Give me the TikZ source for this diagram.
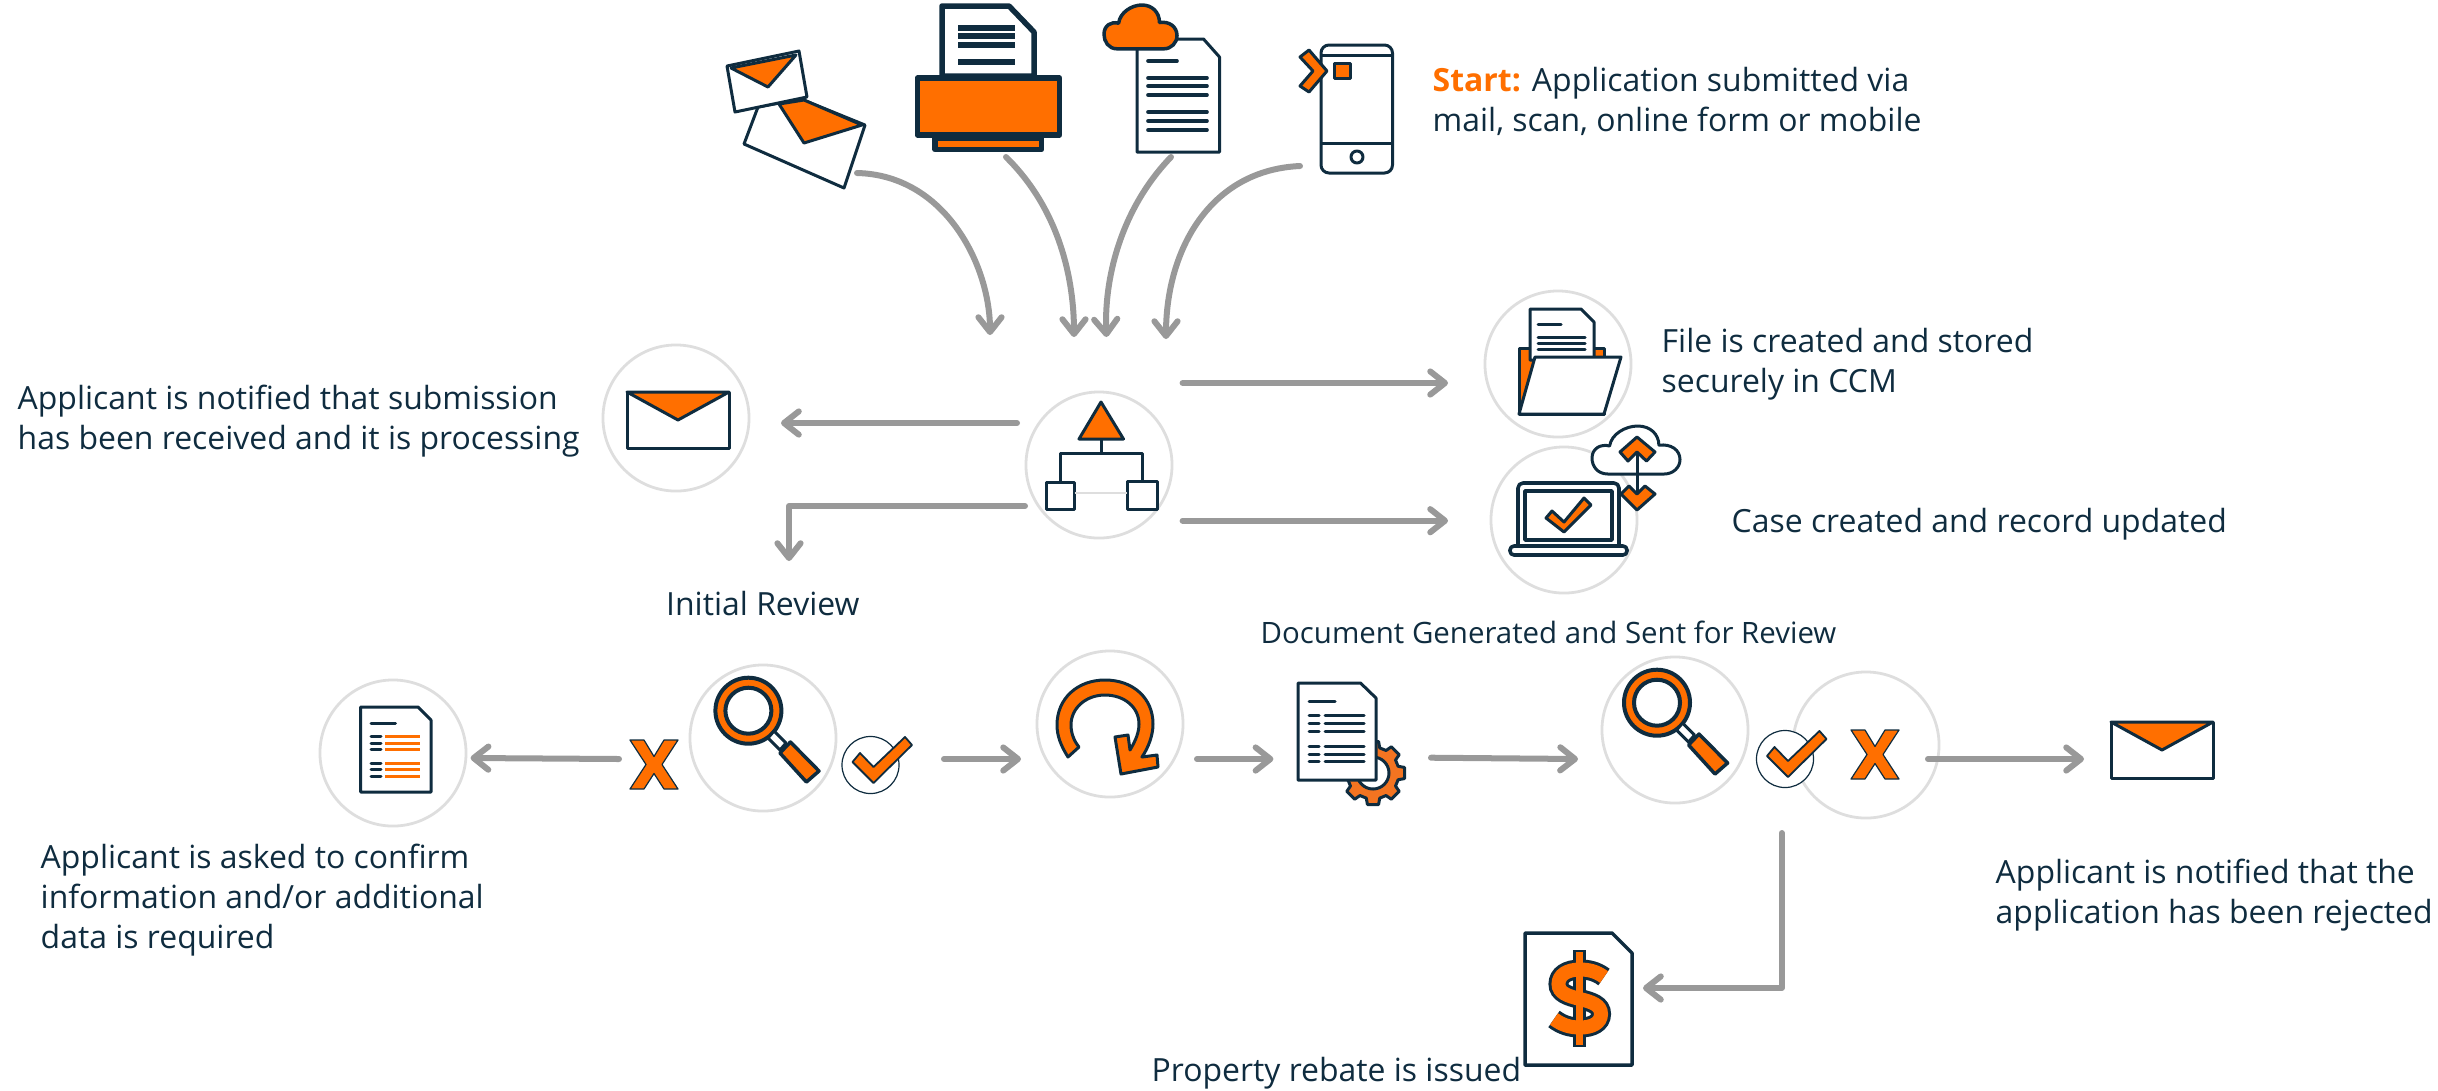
\documentclass[tikz,border=0pt]{standalone}
\usepackage{fontspec}
\usepackage{xcolor}
\setmainfont{Open Sans}
\usetikzlibrary{arrows.meta}
\definecolor{ink}{HTML}{0F2C3F}
\definecolor{accent}{HTML}{FF6F00}
\definecolor{gearcol}{HTML}{F37421}
\definecolor{flowgray}{HTML}{999999}
\definecolor{ringgray}{HTML}{DEDEDE}

\tikzset{
    envelopeicon/.pic={
        \draw[icon,fill=white] (0,0) rectangle (102,56);
        \draw[icon,fill=accent] (0,0) -- (102,0) -- (51,28) -- cycle;
    },
    cloudicon/.pic={
        \path[pic actions] (18,60) .. controls (6,60) and (0,50) .. (0,40) .. controls (0,28) and (10,22) .. (20,25)
            .. controls (22,10) and (38,0) .. (52,0) .. controls (66,0) and (76,10) .. (76,24)
            .. controls (90,22) and (100,30) .. (100,42) .. controls (100,52) and (92,60) .. (82,60) -- cycle;
    },
    lensicon/.pic={
        \draw[icon,line width=0.04cm,fill=accent,even odd rule] (0,0) circle[radius=33] (0,0) circle[radius=23];
        \draw[icon,fill=white] (19.6,27.3) -- (25.6,20.3) -- (37.6,32.3) -- (31.6,39.3) -- cycle;
        \draw[icon,line width=0.035cm,fill=accent] (31.6,42.3) -- (42,31.3) -- (70.6,60.3) -- (58,71.3) -- cycle;
    },
    tickicon/.pic={
        \draw[icon,line width=0.018cm,fill=accent] (-21,-5) -- (-13.5,-14) -- (0,0) -- (31.5,-30) -- (38.5,-22) -- (0,16) -- cycle;
    },
    crossicon/.pic={
        \draw[icon,line width=0.012cm,fill=accent] (-24,-24.5) -- (-10,-24.5) -- (0,-8) -- (10,-24.5) -- (24,-24.5) -- (8,0)
            -- (24,24.5) -- (10,24.5) -- (0,9) -- (-10,24.5) -- (-24,24.5) -- (-8,0) -- cycle;
    }
}

\begin{document}
\begin{tikzpicture}[
    x=0.01cm,y=-0.01cm,
    icon/.style={draw=ink, line width=0.03cm, line join=round},
    ring/.style={shape=circle, draw=ringgray, line width=0.028cm, minimum size=1.46cm, inner sep=0pt},
    smallring/.style={shape=circle, draw=ink, line width=0.012cm, fill=white, minimum size=0.57cm, inner sep=0pt},
    flow/.style={draw=flowgray, line width=0.06cm, line cap=round, line join=round, -{Straight Barb[length=4.2pt,width=6.6pt,round]}},
    txt/.style={anchor=west, align=left, text=ink, inner sep=0pt, font=\fontsize{9.08}{11.4}\selectfont}]
    \useasboundingbox (0,0) rectangle (2438,1090);

    % circles
    \node[ring] (hub) at (1099,465) {};
    \node[ring] (mailcirc) at (676,418) {};
    \node[ring] (filecirc) at (1558,364) {};
    \node[ring] (casecirc) at (1564,520) {};
    \node[ring] (confirmcirc) at (393,753) {};
    \node[ring] (reviewcirc) at (763,738) {};
    \node[ring] (retrycirc) at (1110,724) {};
    \node[ring] (secondcirc) at (1675,730) {};
    \node[ring] (rejectcirc) at (1866,745) {};
    \node[smallring] (passcirc) at (870.5,765) {};
    \node[smallring] (secondpass) at (1785,759) {};

    % sources
    \draw[icon,fill=white] (758,107) -- (744,144) -- (844,188) -- (865,125) -- (801,99) -- cycle;
    \draw[icon,fill=accent] (779,104) -- (804,143) -- (862,125) -- (804,100) -- cycle;
    \draw[icon,fill=white] (727,66) -- (799,51) -- (807,97) -- (735,112) -- cycle;
    \draw[icon,fill=accent] (731,68) -- (796,55) -- (768,87) -- cycle;

    \draw[icon,line width=0.055cm,fill=white] (942,6) -- (1009,6) -- (1034,32) -- (1034,76) -- (942,76) -- cycle;
    \foreach \y in {25,33,42,59}
        \fill[ink] (958,\y) rectangle (1015,\y+6);
    \draw[icon,line width=0.055cm,fill=accent] (917.5,78) rectangle (1059.5,135);
    \draw[icon,line width=0.055cm,fill=accent] (935,138) rectangle (1041.5,149.5);

    \draw[icon,fill=white] (1137,39) -- (1203.5,39) -- (1219.5,57) -- (1219.5,152) -- (1137,152) -- cycle;
    \pic[xscale=0.73,yscale=0.73,icon,line width=0.035cm,fill=accent] at (1104,5) {cloudicon};
    \draw[icon,line width=0.036cm,line cap=round] (1148,61) -- (1177,61);
    \foreach \y in {78,86,95,112,121,130}
        \draw[icon,line width=0.036cm,line cap=round] (1148,\y) -- (1207,\y);

    \draw[icon,fill=white,rounded corners=0.08cm] (1321,45) rectangle (1392.5,173);
    \draw[icon] (1321,55) -- (1392.5,55);
    \draw[icon] (1321,143) -- (1392.5,143);
    \draw[icon] (1357,157) circle[radius=6];
    \draw[icon,fill=accent] (1334,63) rectangle (1350,78);
    \draw[icon,fill=accent] (1309,50) -- (1327,71) -- (1309,92) -- (1300,86) -- (1313,71) -- (1300,57) -- cycle;

    \node[txt] (starttxt) at (1432,101) {{\bfseries\color{accent}Start:} Application submitted via\\mail, scan, online form or mobile};

    % hub
    \draw[icon,fill=accent] (1101,402) -- (1079,439) -- (1123.5,439) -- cycle;
    \draw[icon] (1101,439) -- (1101,453.5);
    \draw[icon] (1060.5,482) -- (1060.5,453.5) -- (1142.4,453.5) -- (1142.4,482);
    \draw[icon] (1046.4,482) rectangle (1074.5,509);
    \draw[icon] (1127.4,481) rectangle (1157,509);
    \draw[ringgray,line width=0.012cm] (1074.5,493) -- (1127.4,493);

    % notification mail
    \pic at (627,392) {envelopeicon};

    % stored file
    \draw[icon,fill=accent] (1519,348) -- (1604,348) -- (1604,414) -- (1519,414) -- cycle;
    \draw[icon,fill=white] (1530,309) -- (1581,309) -- (1594,322) -- (1594,360) -- (1530,360) -- cycle;
    \draw[icon,line cap=round] (1538,324) -- (1561,324);
    \foreach \y in {337,343,349}
        \draw[icon,line cap=round] (1538,\y) -- (1585,\y);
    \draw[icon,fill=white] (1535,357) -- (1621,357) -- (1604,414) -- (1519,414) -- cycle;
    \node[txt] (filetxt) at (1661,364) {File is created and stored\\securely in CCM};

    % updated case
    \pic[xscale=0.88,yscale=0.8,icon,fill=white] at (1592,426) {cloudicon};
    \draw[icon,line width=0.036cm,rounded corners=0.05cm,fill=white] (1518,545) -- (1518,483) -- (1619,483) -- (1619,545);
    \draw[icon,line width=0.036cm] (1525,491) rectangle (1612,540);
    \draw[icon,line width=0.036cm,fill=white,rounded corners=0.04cm] (1510,546) rectangle (1627,555);
    \draw[icon,fill=accent] (1546,518) -- (1552,511) -- (1564,522) -- (1584,498) -- (1591,505) -- (1564,532) -- cycle;
    \draw[icon] (1637,447) -- (1637,497);
    \draw[icon,fill=accent] (1620,452) -- (1637,437) -- (1655,452) -- (1646.5,461) -- (1637,452) -- (1628,461) -- cycle;
    \draw[icon,fill=accent] (1621,494) -- (1637,510) -- (1655,494) -- (1645,486) -- (1637,494) -- (1629,486) -- cycle;
    \node[txt] (casetxt) at (1731,524) {Case created and record updated};

    \node[txt] (mailtxt) at (17,421) {Applicant is notified that submission\\has been received and it is processing};
    \node[txt] (initialtxt) at (665.5,604) {Initial Review};
    \node[txt,font=\fontsize{8.37}{11.4}\selectfont] (doctxt) at (1260,632) {Document Generated and Sent for Review};

    % review row
    \draw[icon,fill=white] (360.6,707) -- (418,707) -- (431,720) -- (431,792) -- (360.6,792) -- cycle;
    \draw[icon,line cap=round] (371,723) -- (395.5,723);
    \foreach \y in {736,743,749,763,769,776} {
        \draw[icon,line cap=round] (371,\y) -- (381,\y);
        \draw[accent,line width=0.03cm] (385,\y) -- (420,\y);
    }
    \node[txt] (confirmtxt) at (40,900) {Applicant is asked to confirm\\information and/or additional\\data is required};

    \pic at (654,764.5) {crossicon};
    \pic at (748.4,710.7) {lensicon};
    \pic at (873.5,767) {tickicon};

    \draw[icon,fill=accent] (1068,757) .. controls (1061,746) and (1057,736) .. (1057,725)
        .. controls (1057,698) and (1078,680) .. (1105,680) .. controls (1133,680) and (1153,698) .. (1153,724)
        .. controls (1153,736) and (1148,748) .. (1142,757) -- (1157,755) -- (1158,767) -- (1121,774) -- (1115,737) -- (1128,735) -- (1130,750)
        .. controls (1136,740) and (1139,732) .. (1139,724) .. controls (1139,707) and (1124,695) .. (1105,695)
        .. controls (1086,695) and (1071,708) .. (1071,725) .. controls (1071,733) and (1074,741) .. (1079,747) -- cycle;

    \begin{scope}[shift={(1373,773)}]
        \draw[icon,fill=gearcol,even odd rule] (-10:32)
            \foreach \a in {0,45,...,315} { -- (\a-10:32) -- (\a+10:32) -- (\a+15:26) -- (\a+30:26) } -- cycle
            (0,0) circle[radius=16];
    \end{scope}
    \draw[icon,fill=white] (1298,683) -- (1360.5,683) -- (1376,698) -- (1376,780) -- (1298,780) -- cycle;
    \draw[icon,line cap=round] (1309,701) -- (1335,701);
    \foreach \y in {715,723,731,746,754,761} {
        \draw[icon,line cap=round] (1309,\y) -- (1319,\y);
        \draw[icon,line cap=round] (1325,\y) -- (1364,\y);
    }

    \pic at (1657,702.7) {lensicon};
    \pic at (1788,761) {tickicon};
    \pic at (1875,754.5) {crossicon};
    \pic at (2111,722) {envelopeicon};
    \node[txt] (rejecttxt) at (1995,895) {Applicant is notified that the\\application has been rejected};

    % rebate
    \draw[icon,line width=0.035cm,fill=white] (1525,933) -- (1612,933) -- (1632,953) -- (1632,1065) -- (1525,1065) -- cycle;
    \draw[ink,line width=0.13cm] (1579,950) -- (1579,1047);
    \draw[ink,line width=0.2cm] (1604,977) .. controls (1596,971) and (1588,969.5) .. (1580,969.5) .. controls (1567,969.5) and (1558.5,975) .. (1558.5,984)
        .. controls (1558.5,993) and (1568,996) .. (1580,999) .. controls (1592,1002) and (1601,1005) .. (1601,1014)
        .. controls (1601,1023) and (1592,1027.5) .. (1580,1027.5) .. controls (1570,1027.5) and (1562,1025) .. (1554,1019);
    \draw[accent,line width=0.07cm] (1579,952) -- (1579,1045);
    \draw[accent,line width=0.14cm] (1604,977) .. controls (1596,971) and (1588,969.5) .. (1580,969.5) .. controls (1567,969.5) and (1558.5,975) .. (1558.5,984)
        .. controls (1558.5,993) and (1568,996) .. (1580,999) .. controls (1592,1002) and (1601,1005) .. (1601,1014)
        .. controls (1601,1023) and (1592,1027.5) .. (1580,1027.5) .. controls (1570,1027.5) and (1562,1025) .. (1554,1019);
    \node[txt] (rebatetxt) at (1151,1073) {Property rebate is issued};

    % connector ends
    \coordinate (mailout) at (857,173);
    \coordinate (scanout) at (1006,157);
    \coordinate (onlineout) at (1171,157);
    \coordinate (mobileout) at (1300,166);
    \coordinate (mailin) at (990,335);
    \coordinate (scanin) at (1074,337);
    \coordinate (onlinein) at (1106.5,337);
    \coordinate (mobilein) at (1166,339);
    \coordinate (fileout) at (1182.6,383);
    \coordinate (filein) at (1448,383);
    \coordinate (caseout) at (1182.6,520.7);
    \coordinate (casein) at (1448,520.7);
    \coordinate (noticeout) at (1017,423);
    \coordinate (noticein) at (781,423);
    \coordinate (initialout) at (1025,506);
    \coordinate (initialbend) at (789,506);
    \coordinate (initialin) at (789,561);
    \coordinate (confirmout) at (619,759);
    \coordinate (confirmin) at (470.6,758);
    \coordinate (retryin) at (1021,759);
    \coordinate (passout) at (944,759);
    \coordinate (docout) at (1197,759);
    \coordinate (docin) at (1273.4,759);
    \coordinate (secondout) at (1431,757.7);
    \coordinate (secondin) at (1578,759);
    \coordinate (rejectout) at (1928,759);
    \coordinate (rejectin) at (2084,759);
    \coordinate (rebateout) at (1781.7,833);
    \coordinate (rebatebend) at (1781.7,988);
    \coordinate (rebatein) at (1643,988);

    \draw[flow] (mailout) .. controls (945,175) and (990,265) .. (mailin);
    \draw[flow] (scanout) .. controls (1060,210) and (1074,280) .. (scanin);
    \draw[flow] (onlineout) .. controls (1120,210) and (1104,280) .. (onlinein);
    \draw[flow] (mobileout) .. controls (1210,170) and (1166,250) .. (mobilein);
    \draw[flow] (fileout) -- (filein);
    \draw[flow] (caseout) -- (casein);
    \draw[flow] (noticeout) -- (noticein);
    \draw[flow] (initialout) -- (initialbend) -- (initialin);
    \draw[flow] (confirmout) -- (confirmin);
    \draw[flow] (passout) -- (retryin);
    \draw[flow] (docout) -- (docin);
    \draw[flow] (secondout) -- (secondin);
    \draw[flow] (rejectout) -- (rejectin);
    \draw[flow] (rebateout) -- (rebatebend) -- (rebatein);
\end{tikzpicture}
\end{document}
